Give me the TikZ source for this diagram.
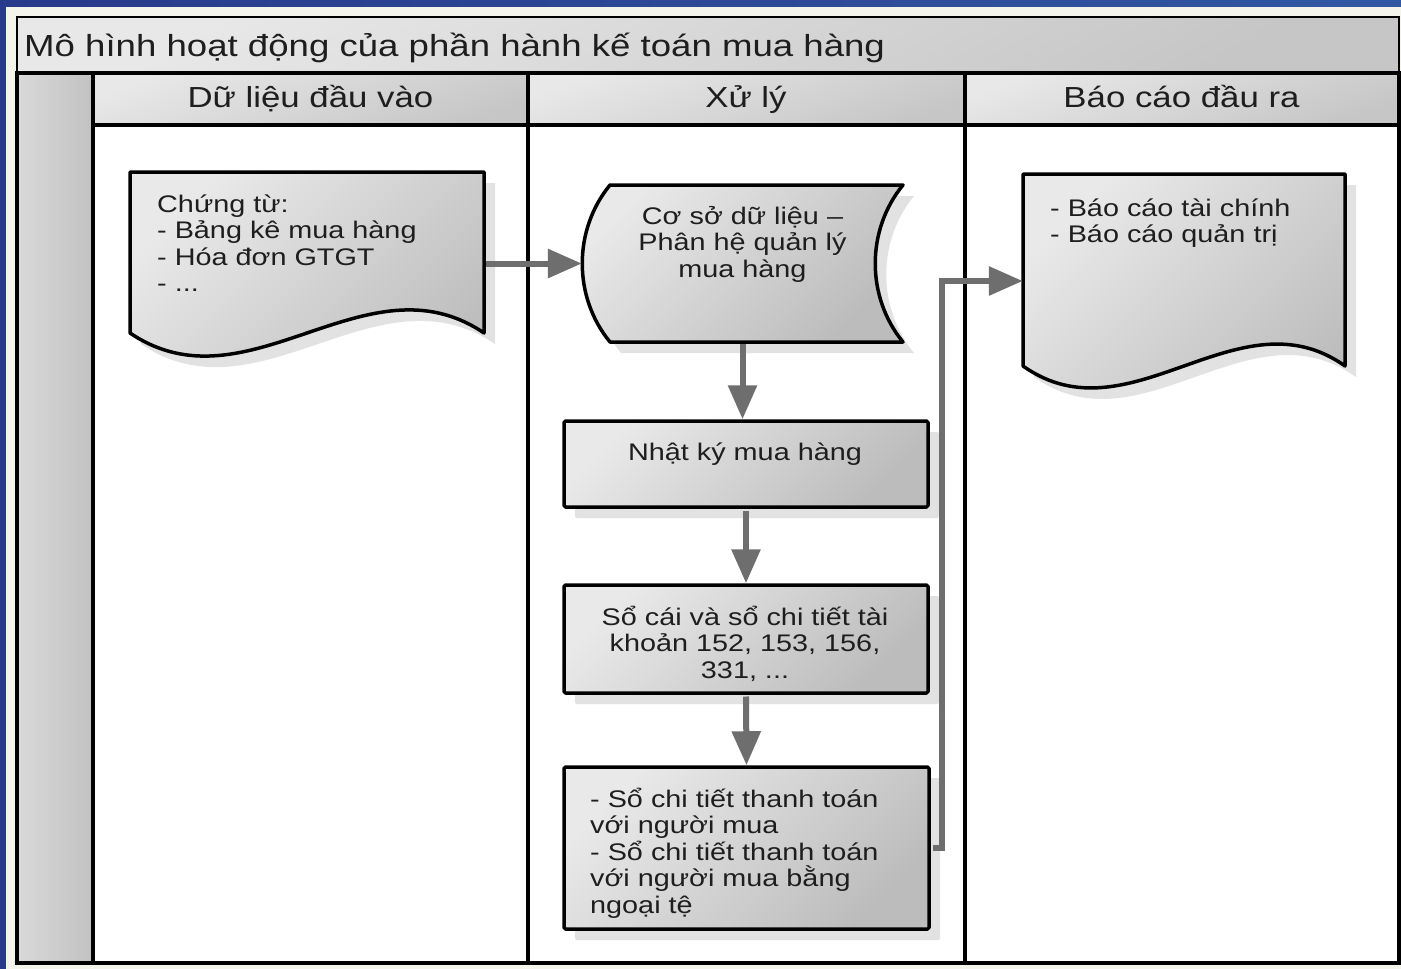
\documentclass[tikz,border=0pt]{standalone}
\usepackage{fontspec}
\setmainfont[FakeStretch=1.2]{Liberation Sans}
\usetikzlibrary{arrows.meta,shadows}
\definecolor{navy}{HTML}{283A8B}
\definecolor{navyl}{HTML}{3157A3}
\definecolor{cream}{HTML}{F4F3EC}
\definecolor{agray}{HTML}{6E6E6E}
\definecolor{sgray}{HTML}{E2E2E2}
\definecolor{gl}{HTML}{E9E9E9}
\definecolor{gd}{HTML}{BCBCBC}
\definecolor{hl}{HTML}{E8E8E8}
\definecolor{hd}{HTML}{C6C6C6}
\definecolor{ink}{HTML}{1E1E1E}
\newcommand{\bfnt}{\fontsize{24}{26.5}\selectfont}
\newcommand{\hfnt}{\fontsize{29}{34}\selectfont}
\newcommand{\tfnt}{\fontsize{30.5}{36}\selectfont}
\tikzset{
  flow/.style={draw=agray, line width=6pt, shorten <=1.75pt, -{Triangle[length=34pt,width=28pt]}},
  shapefill/.style={draw=black, line width=3.5pt, line join=round, top color=gl, bottom color=gd, shading angle=45,
    drop shadow={shadow xshift=11pt, shadow yshift=-11pt, fill=sgray, opacity=1}},
  frame/.style={draw=black, line width=4pt},
  txt/.style={inner sep=0pt, font=\bfnt, text=ink},
  hdr/.style={inner sep=0pt, font=\hfnt, text=ink, anchor=base},
  anchorbox/.style={draw=none, inner sep=0pt},
  hdrfill/.style={top color=hl, bottom color=hd, shading angle=20},
}
\begin{document}
\begin{tikzpicture}[x=1pt,y=-1pt]
\useasboundingbox (0,0) rectangle (1401,969);
% background
\fill[navy] (0,0) rectangle (1401,969);
\shade[left color=navy, right color=navyl] (0,0) rectangle (1401,7);
\fill[cream] (6,7) rectangle (1401,969);
% title bar
\shade[top color=hl, bottom color=hd, shading angle=30] (17,17) rectangle (1399,73);
\draw[line width=2.5pt] (17,17) rectangle (1399,73);
\node[anchor=base west, inner sep=0pt, font=\tfnt, text=ink] (title) at (24,56) {Mô hình hoạt động của phần hành kế toán mua hàng};
% left column
\shade[left color=black!15, right color=black!24] (17,73) rectangle (93,963);
% headers
\shade[hdrfill] (93,74) rectangle (528,124.5);
\shade[hdrfill] (528,74) rectangle (965,124.5);
\shade[hdrfill] (965,74) rectangle (1399,124.5);
% lane bodies
\fill[white] (93,124.5) rectangle (1399,963);
\node[hdr] (h1) at (310.5,107) {Dữ liệu đầu vào};
\node[hdr] (h2) at (746,107) {Xử lý};
\node[hdr] (h3) at (1181.5,107) {Báo cáo đầu ra};
% lane lines
\draw[frame] (93,124.5) -- (1399,124.5);
\draw[frame] (93,73) -- (93,963);
\draw[frame] (528,73) -- (528,963);
\draw[frame] (965,73) -- (965,963);
\draw[frame] (17,73) rectangle (1399,963);
% document 1
\path[shapefill] (130,172) -- (484,172) -- (484,333) .. controls (366,253) and (248,413) .. (130,333) -- cycle;
\node[anchorbox, minimum width=354pt, minimum height=163pt] (doc1) at (307,253.5) {};
\node[txt, anchor=base west, align=left] (doc1t) at (157,291.5) {Chứng từ:\\- Bảng kê mua hàng\\- Hóa đơn GTGT\\- ...};
% database shape
\path[shapefill] (610,185) -- (903,185) .. controls (866,230) and (866,297) .. (903,342) -- (610,342) .. controls (573,297) and (573,230) .. (610,185) -- cycle;
\node[anchorbox, minimum width=321pt, minimum height=157pt] (db) at (742.5,263.5) {};
\node[txt, anchor=base, align=center] (dbt) at (742.5,277) {Cơ sở dữ liệu –\\Phân hệ quản lý\\mua hàng};
% process boxes
\node[shapefill, rounded corners=1.5pt, minimum width=364pt, minimum height=86pt, inner sep=0pt] (nk) at (746,464) {};
\node[txt, anchor=base] (nkt) at (745,460) {Nhật ký mua hàng};
\node[shapefill, rounded corners=1.5pt, minimum width=364pt, minimum height=108pt, inner sep=0pt] (sc) at (746,639) {};
\node[txt, anchor=base, align=center] (sct) at (745,678) {Sổ cái và sổ chi tiết tài\\khoản 152, 153, 156,\\331, ...};
\node[shapefill, rounded corners=1.5pt, minimum width=365pt, minimum height=162pt, inner sep=0pt] (ct) at (746.5,848) {};
\node[txt, anchor=base west, align=left] (ctt) at (590,913) {- Sổ chi tiết thanh toán\\với người mua\\- Sổ chi tiết thanh toán\\với người mua bằng\\ngoại tệ};
% document 2
\path[shapefill] (1023,174) -- (1345,174) -- (1345,366) .. controls (1238,290) and (1130,442) .. (1023,366) -- cycle;
\node[anchorbox, minimum width=322pt, minimum height=214pt] (doc2) at (1184,281) {};
\node[txt, anchor=base west, align=left] (doc2t) at (1050,242.5) {- Báo cáo tài chính\\- Báo cáo quản trị};
% connectors
\draw[flow] (doc1.east |- db.west) -- (db.west);
\draw[flow] (db.south) -- (db.south |- nk.north);
\draw[flow] (nk.south) -- (sc.north);
\draw[flow] (sc.south) -- (ct.north);
\draw[flow] (ct.east) -- ++(11,0) |- (doc2.west);
\end{tikzpicture}
\end{document}
